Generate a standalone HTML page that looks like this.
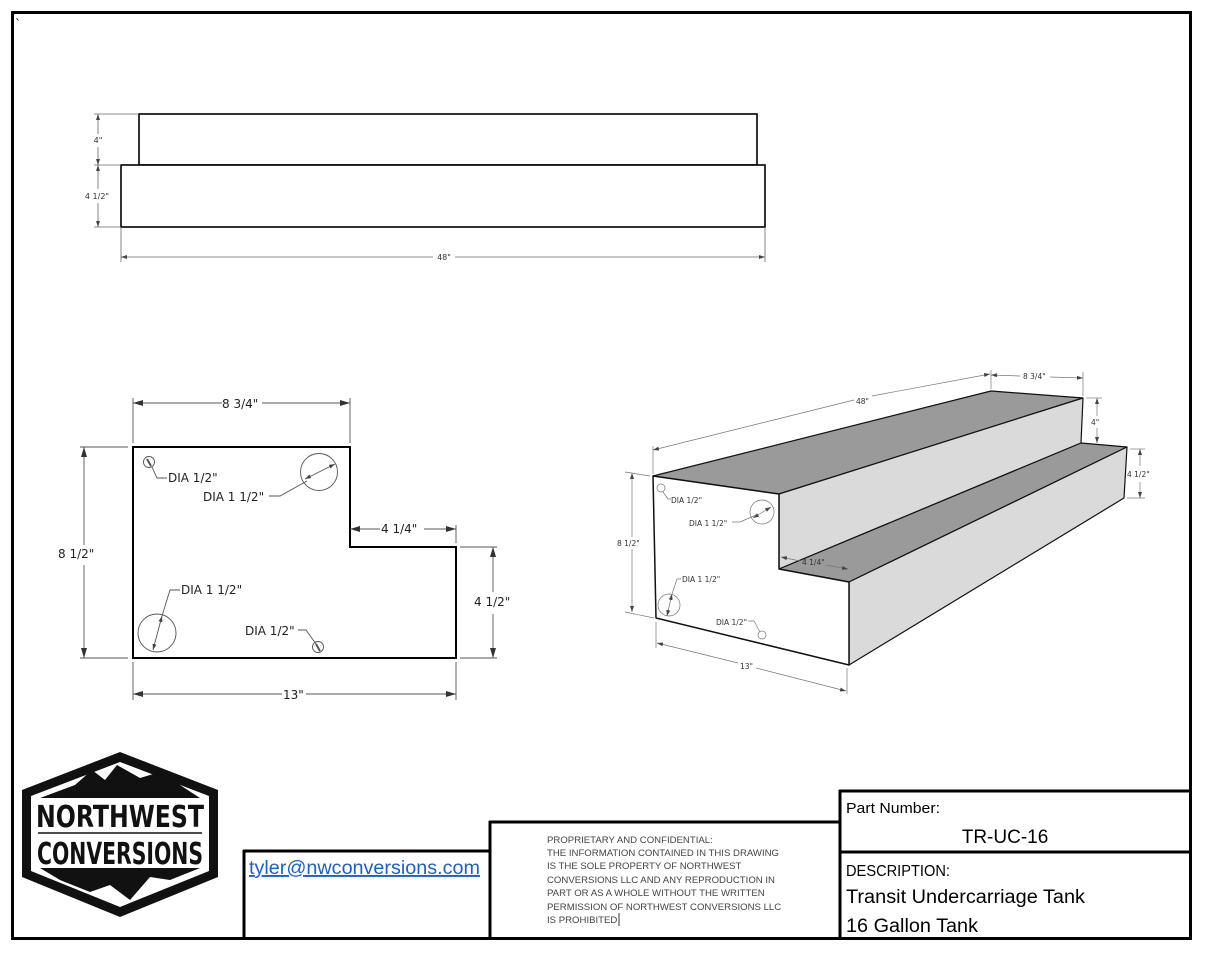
<!DOCTYPE html>
<html><head><meta charset="utf-8"><style>
html,body{margin:0;padding:0;background:#fff;}
svg{display:block;}
</style></head><body>
<svg width="1214" height="961" viewBox="0 0 1214 961" xmlns="http://www.w3.org/2000/svg" font-family="DejaVu Sans, Liberation Sans, sans-serif">
<defs>
<marker id="ar" markerWidth="10" markerHeight="6" refX="10" refY="3" orient="auto-start-reverse" markerUnits="userSpaceOnUse"><path d="M0,0 L10,3 L0,6 z" fill="#333"/></marker>
<marker id="as" markerWidth="6" markerHeight="4" refX="6" refY="2" orient="auto-start-reverse" markerUnits="userSpaceOnUse"><path d="M0,0 L6,2 L0,4 z" fill="#444"/></marker>
</defs>
<rect x="0" y="0" width="1214" height="961" fill="#fff"/>
<rect x="12.5" y="12.5" width="1178" height="926" fill="none" stroke="#000" stroke-width="3"/>
<text x="15" y="28" font-size="12" fill="#000">`</text>

<!-- top elevation -->
<g stroke="#000" stroke-width="1.6" fill="#fff">
<rect x="139" y="114" width="618" height="51"/>
<rect x="121" y="165" width="644" height="62"/>
</g>
<g stroke="#666" stroke-width="0.8" fill="none">
<line x1="94" y1="114" x2="139" y2="114"/><line x1="94" y1="165" x2="121" y2="165"/><line x1="94" y1="227" x2="121" y2="227"/>
<line x1="98" y1="114" x2="98" y2="134" marker-start="url(#as)"/><line x1="98" y1="147" x2="98" y2="165" marker-end="url(#as)"/>
<line x1="98" y1="165" x2="98" y2="189" marker-start="url(#as)"/><line x1="98" y1="203" x2="98" y2="227" marker-end="url(#as)"/>
<line x1="121" y1="227" x2="121" y2="262"/><line x1="765" y1="227" x2="765" y2="262"/>
<line x1="121" y1="257" x2="433" y2="257" marker-start="url(#as)"/><line x1="455" y1="257" x2="765" y2="257" marker-end="url(#as)"/>
</g>
<g font-size="8" fill="#333" text-anchor="middle">
<text x="98" y="143">4"</text><text x="97" y="199">4 1/2"</text><text x="444" y="260">48"</text>
</g>

<!-- plan view -->
<path d="M133,447 L350,447 L350,547 L456,547 L456,658 L133,658 Z" fill="#fff" stroke="#000" stroke-width="2"/>
<g stroke="#555" stroke-width="0.9" fill="none">
<line x1="133" y1="398" x2="133" y2="443"/><line x1="350" y1="398" x2="350" y2="443"/>
<line x1="133" y1="403" x2="222" y2="403" marker-start="url(#ar)"/><line x1="262" y1="403" x2="350" y2="403" marker-end="url(#ar)"/>
<line x1="80" y1="447" x2="128" y2="447"/><line x1="80" y1="658" x2="128" y2="658"/>
<line x1="84" y1="447" x2="84" y2="545" marker-start="url(#ar)"/><line x1="84" y1="565" x2="84" y2="658" marker-end="url(#ar)"/>
<line x1="350" y1="529" x2="380" y2="529" marker-start="url(#ar)"/><line x1="424" y1="529" x2="456" y2="529" marker-end="url(#ar)"/>
<line x1="456" y1="525" x2="456" y2="543"/>
<line x1="460" y1="547" x2="497" y2="547"/><line x1="460" y1="658" x2="497" y2="658"/>
<line x1="493" y1="547" x2="493" y2="592" marker-start="url(#ar)"/><line x1="493" y1="614" x2="493" y2="658" marker-end="url(#ar)"/>
<line x1="133" y1="662" x2="133" y2="700"/><line x1="456" y1="662" x2="456" y2="700"/>
<line x1="133" y1="694" x2="282" y2="694" marker-start="url(#ar)"/><line x1="306" y1="694" x2="456" y2="694" marker-end="url(#ar)"/>
<circle cx="149" cy="462" r="5.5"/><circle cx="319" cy="472" r="18.5"/><circle cx="157" cy="633" r="19"/><circle cx="318" cy="647" r="5.5"/>
<line x1="305" y1="479" x2="335" y2="464" marker-start="url(#as)" marker-end="url(#as)"/>
<line x1="153" y1="650" x2="162" y2="616" marker-start="url(#as)" marker-end="url(#as)"/>
<line x1="147" y1="459" x2="151" y2="466" stroke-width="2"/><line x1="316" y1="644" x2="320" y2="651" stroke-width="2"/>
<path d="M152,467 L157,478 L167,478"/>
<path d="M269,496 L280,496 L307,481"/>
<path d="M162,616 L170,590 L180,590"/>
<path d="M298,630 L306,630 L316,644"/>
</g>
<g font-size="12" fill="#222">
<text x="222" y="408">8 3/4"</text><text x="58" y="558">8 1/2"</text><text x="381" y="533">4 1/4"</text>
<text x="474" y="606">4 1/2"</text><text x="283" y="699">13"</text>
<text x="168" y="482">DIA 1/2"</text><text x="203" y="501">DIA 1 1/2"</text>
<text x="181" y="594">DIA 1 1/2"</text><text x="245" y="635">DIA 1/2"</text>
</g>

<!-- 3D view -->
<g stroke="#111" stroke-width="1.2" stroke-linejoin="round">
<polygon points="653,476 991,391 1083,398 779,494" fill="#9a9a9a"/>
<polygon points="779,494 1083,398 1081,443 779,569" fill="#dadada"/>
<polygon points="779,569 1081,443 1127,447 849,582" fill="#9a9a9a"/>
<polygon points="849,582 1127,447 1124,498 849,665" fill="#dadada"/>
<polygon points="653,476 779,494 779,569 849,582 849,665 656,618" fill="#fff" stroke-width="1.5"/>
</g>
<g stroke="#777" stroke-width="0.7" fill="none">
<line x1="653" y1="446" x2="653" y2="474"/><line x1="991" y1="370" x2="991" y2="389"/>
<line x1="653" y1="450" x2="854" y2="400" marker-start="url(#as)"/><line x1="872" y1="396" x2="990" y2="374" marker-end="url(#as)"/>
<line x1="1083" y1="372" x2="1083" y2="396"/>
<line x1="991" y1="375" x2="1020" y2="376" marker-start="url(#as)"/><line x1="1050" y1="377" x2="1083" y2="378" marker-end="url(#as)"/>
<line x1="1086" y1="398" x2="1102" y2="398"/>
<line x1="1097" y1="398" x2="1097" y2="416" marker-start="url(#as)"/><line x1="1097" y1="428" x2="1097" y2="443" marker-end="url(#as)"/>
<line x1="1130" y1="449" x2="1145" y2="449"/><line x1="1127" y1="498" x2="1145" y2="498"/>
<line x1="1140" y1="449" x2="1140" y2="466" marker-start="url(#as)"/><line x1="1140" y1="482" x2="1140" y2="498" marker-end="url(#as)"/>
<line x1="625" y1="472" x2="650" y2="476"/><line x1="625" y1="612" x2="654" y2="618"/>
<line x1="632" y1="473" x2="632" y2="537" marker-start="url(#as)"/><line x1="632" y1="549" x2="632" y2="612" marker-end="url(#as)"/>
<line x1="656" y1="622" x2="656" y2="648"/><line x1="847" y1="668" x2="847" y2="694"/>
<line x1="657" y1="643" x2="738" y2="663" marker-start="url(#as)"/><line x1="756" y1="668" x2="846" y2="691" marker-end="url(#as)"/>
<line x1="781" y1="557" x2="800" y2="561" marker-start="url(#as)"/><line x1="826" y1="565" x2="848" y2="569" marker-end="url(#as)"/>
<circle cx="661" cy="488" r="4"/><circle cx="762" cy="512" r="12"/><circle cx="669" cy="605" r="11"/><circle cx="762" cy="635" r="4"/>
<line x1="753" y1="518" x2="771" y2="507" marker-start="url(#as)" marker-end="url(#as)"/>
<line x1="667" y1="616" x2="672" y2="594" marker-start="url(#as)" marker-end="url(#as)"/>
<path d="M663,492 L668,499 L671,499"/>
<path d="M732,522 L740,522 L756,515"/>
<path d="M672,594 L677,579 L681,579"/>
<path d="M748,621 L754,621 L760,632"/>
</g>
<g font-size="7.5" fill="#333">
<text x="856" y="404">48"</text><text x="1023" y="379">8 3/4"</text><text x="1091" y="425">4"</text>
<text x="1127" y="477">4 1/2"</text><text x="617" y="546">8 1/2"</text><text x="740" y="669">13"</text>
<text x="802" y="565">4 1/4"</text>
<text x="671" y="503">DIA 1/2"</text><text x="689" y="526">DIA 1 1/2"</text>
<text x="682" y="582">DIA 1 1/2"</text><text x="716" y="625">DIA 1/2"</text>
</g>

<!-- logo -->
<g>
<polygon points="120,752 218,790 218,877 120,917 22,877 22,790" fill="#111"/>
<polygon points="120,762 209,796 209,871 120,907 31,871 31,796" fill="#fff"/>
<polygon points="40,798 75,785 92,770 105,780 117,765 140,778 160,772 200,798" fill="#111"/>
<polygon points="40,868 200,868 170,880 150,877 130,900 110,885 90,892 60,880" fill="#111"/>
<line x1="38" y1="833" x2="202" y2="833" stroke="#111" stroke-width="1.5"/>
<text x="120" y="827" font-family="Liberation Sans Narrow, DejaVu Sans Condensed, Liberation Sans, sans-serif" font-weight="bold" font-size="30" fill="#111" text-anchor="middle" textLength="168" lengthAdjust="spacingAndGlyphs">NORTHWEST</text>
<text x="120" y="864" font-family="Liberation Sans Narrow, DejaVu Sans Condensed, Liberation Sans, sans-serif" font-weight="bold" font-size="30" fill="#111" text-anchor="middle" textLength="166" lengthAdjust="spacingAndGlyphs">CONVERSIONS</text>
</g>

<!-- title block -->
<g stroke="#000" stroke-width="3" fill="none">
<line x1="244" y1="850" x2="244" y2="939"/>
<line x1="243" y1="851" x2="491" y2="851"/>
<line x1="490" y1="821" x2="490" y2="939"/>
<line x1="489" y1="822" x2="841" y2="822"/>
<line x1="840" y1="790" x2="840" y2="939"/>
<line x1="839" y1="791" x2="1191" y2="791"/>
<line x1="839" y1="852" x2="1191" y2="852"/>
</g>
<text x="249" y="874" font-family="Liberation Sans, sans-serif" font-size="19" fill="#1a5fd0" text-decoration="underline" textLength="231" lengthAdjust="spacingAndGlyphs">tyler@nwconversions.com</text>
<g font-family="Liberation Sans, sans-serif" font-size="9.6" fill="#444">
<text x="547" y="843">PROPRIETARY AND CONFIDENTIAL:</text>
<text x="547" y="856">THE INFORMATION CONTAINED IN THIS DRAWING</text>
<text x="547" y="869">IS THE SOLE PROPERTY OF NORTHWEST</text>
<text x="547" y="883">CONVERSIONS LLC AND ANY REPRODUCTION IN</text>
<text x="547" y="896">PART OR AS A WHOLE WITHOUT THE WRITTEN</text>
<text x="547" y="910">PERMISSION OF NORTHWEST CONVERSIONS LLC</text>
<text x="547" y="923">IS PROHIBITED</text>
</g>
<line x1="619" y1="913" x2="619" y2="926" stroke="#000" stroke-width="0.8"/>
<g font-family="Liberation Sans, sans-serif" fill="#000">
<text x="846" y="813" font-size="15" textLength="94" lengthAdjust="spacingAndGlyphs">Part Number:</text>
<text x="1005" y="843" font-size="19" text-anchor="middle">TR-UC-16</text>
<text x="846" y="876" font-size="16" textLength="104" lengthAdjust="spacingAndGlyphs">DESCRIPTION:</text>
<text x="846" y="903" font-size="19" textLength="239" lengthAdjust="spacingAndGlyphs">Transit Undercarriage Tank</text>
<text x="846" y="932" font-size="19" textLength="132" lengthAdjust="spacingAndGlyphs">16 Gallon Tank</text>
</g>
</svg>
</body></html>
